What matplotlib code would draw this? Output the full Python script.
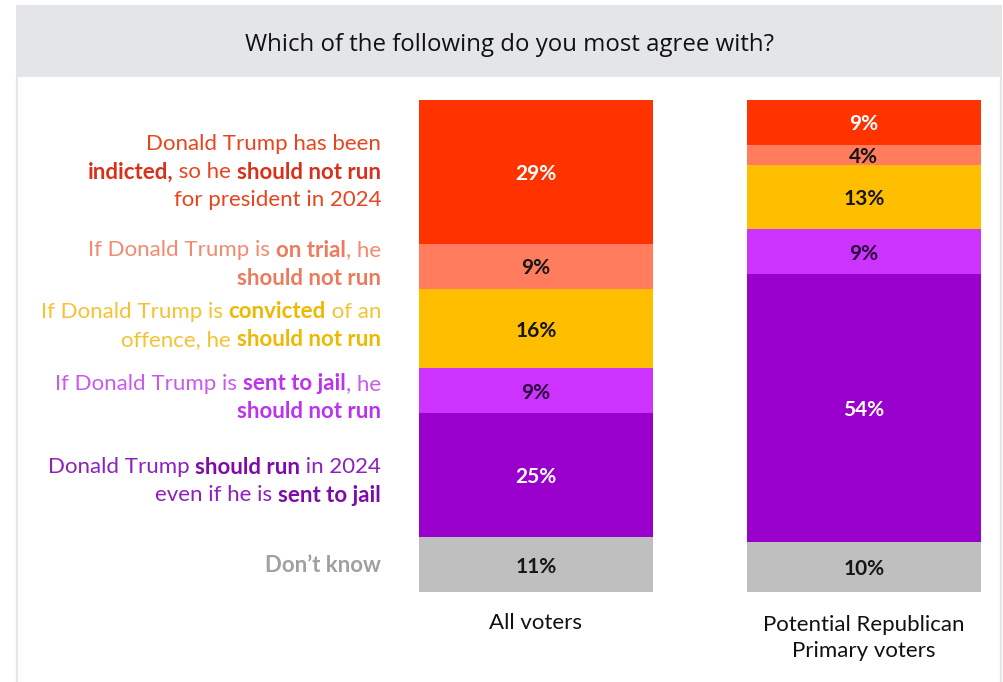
import matplotlib
matplotlib.use("Agg")
import matplotlib.pyplot as plt
from matplotlib.patches import Rectangle
from matplotlib.lines import Line2D

W, H = 1004, 682

title = "Which of the following do you most agree with?"
groups = ["All voters", "Potential Republican\nPrimary voters"]
all_voters = [29, 9, 16, 9, 25, 11]
republican_primary = [9, 4, 13, 9, 54, 10]
bar_colors = ["#FF3300", "#FF7D5E", "#FFBF00", "#CC33FF", "#9900CC", "#BFBFBF"]
value_colors = ["white", "#161616", "#161616", "#2B0838", "white", "#161616"]

# answer texts, one list of lines per answer, each line split in (text, bold) pieces
answer_lines = [
    [[("Donald Trump has been", False)],
     [("indicted,", True), (" so he ", False), ("should not run", True)],
     [("for president in 2024", False)]],
    [[("If Donald Trump is ", False), ("on trial", True), (", he", False)],
     [("should not run", True)]],
    [[("If Donald Trump is ", False), ("convicted", True), (" of an", False)],
     [("offence, he ", False), ("should not run", True)]],
    [[("If Donald Trump is ", False), ("sent to jail", True), (", he", False)],
     [("should not run", True)]],
    [[("Donald Trump ", False), ("should run", True), (" in 2024", False)],
     [("even if he is ", False), ("sent to jail", True)]],
    [[("Don\u2019t know", True)]],
]
answer_colors = [("#E8451F", "#D9301A"), ("#F28A6E", "#EE7A5C"),
                 ("#F6C232", "#EDB900"), ("#C95AEE", "#BB33EE"),
                 ("#8F20BC", "#7E0AAA"), ("#A8A8A8", "#A0A0A0")]
# small vertical nudges (px, upwards) of each answer block from its segment centre
answer_nudge = [0, 2, 3, -7, -6, -1]

fig = plt.figure(figsize=(W / 100, H / 100), dpi=100)
fig.patch.set_facecolor("white")

# header band and panel borders
fig.add_artist(Rectangle((16 / W, 1 - 77 / H), 986 / W, 72 / H,
                         transform=fig.transFigure, color="#E4E5E7", lw=0))
for xp in (17, 1001):
    fig.add_artist(Line2D([xp / W, xp / W], [0, 1 - 77 / H], transform=fig.transFigure,
                          color="#E6E6E6", lw=1.6))
fig.text(510 / W, 1 - 45 / H, title, ha="center", va="center",
         fontsize=17.3, family="Open Sans", color="#111111")

# bars area: left edge 419px, right edge 981px, top 100px, bottom 592px
ax = fig.add_axes([419 / W, 1 - 592 / H, 562 / W, 492 / H])
ax.set_xlim(-0.357, 1.357)
ax.set_ylim(sum(all_voters), 0)
ax.axis("off")

for xi, vals in enumerate([all_voters, republican_primary]):
    bottom = 0
    for v, c, tc in zip(vals, bar_colors, value_colors):
        ax.bar(xi, v, bottom=bottom, width=0.713, color=c, linewidth=0)
        ax.text(xi, bottom + v / 2 + 0.4, f"{v}%", ha="center", va="center",
                fontsize=15, fontweight="bold", family="Lato", color=tc)
        bottom += v

fig.text(536 / W, 1 - 623 / H, groups[0], ha="center", va="center", fontsize=16,
         family="Lato", color="#111111")
fig.text(864 / W, 1 - 638 / H, groups[1], ha="center", va="center", fontsize=16,
         family="Lato", color="#111111", linespacing=1.33)

# answer labels, right-aligned at 381px and centred on the left bar segments
renderer = fig.canvas.get_renderer()
label_size = 16
line_gap = 28


def text_width(s, bold):
    t = fig.text(0, 0, "|" + s + "|", fontsize=label_size, family="Lato",
                 fontweight="bold" if bold else "normal")
    w = t.get_window_extent(renderer).width
    t.set_text("||")
    w -= t.get_window_extent(renderer).width
    t.remove()
    return w


bottom = 0
for lines, (col, bold_col), v, dy in zip(answer_lines, answer_colors, all_voters, answer_nudge):
    centre_px = ax.transData.transform((0, bottom + v / 2))[1] + dy
    n = len(lines)
    for i, pieces in enumerate(lines):
        y_px = centre_px + (n - 1) / 2 * line_gap - i * line_gap
        widths = [text_width(s, b) for s, b in pieces]
        x_px = 381 - sum(widths)
        for (s, b), w in zip(pieces, widths):
            fig.text(x_px / W, y_px / H, s, ha="left", va="center",
                     fontsize=label_size, family="Lato",
                     fontweight="bold" if b else "normal",
                     color=bold_col if b else col)
            x_px += w
    bottom += v

fig.savefig("out.png", dpi=100)
